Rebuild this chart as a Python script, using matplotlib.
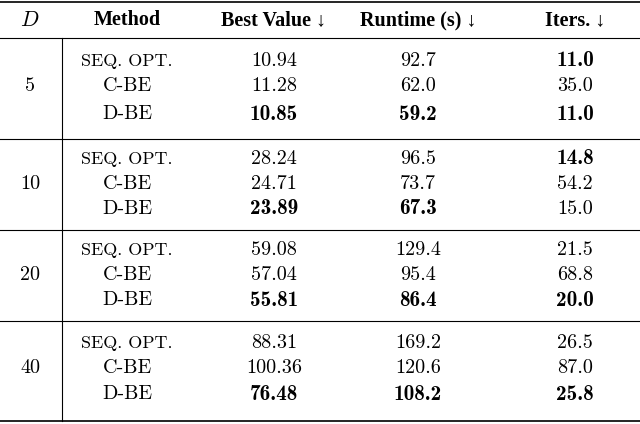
import matplotlib.pyplot as plt
plt.rcParams['mathtext.fontset'] = 'cm'

Ds = ["5", "10", "20", "40"]
methods = ["SEQ. OPT.", "C-BE", "D-BE"]
best = [["10.94", "11.28", "10.85"], ["28.24", "24.71", "23.89"],
        ["59.08", "57.04", "55.81"], ["88.31", "100.36", "76.48"]]
runtime = [["92.7", "62.0", "59.2"], ["96.5", "73.7", "67.3"],
           ["129.4", "95.4", "86.4"], ["169.2", "120.6", "108.2"]]
iters = [["11.0", "35.0", "11.0"], ["14.8", "54.2", "15.0"],
         ["21.5", "68.8", "20.0"], ["26.5", "87.0", "25.8"]]
bold_best = [[2], [2], [2], [2]]
bold_rt = [[2], [2], [2], [2]]
bold_it = [[0, 2], [0], [2], [2]]
headers = ["Best Value", "Runtime (s)", "Iters."]

fig = plt.figure(figsize=(6.4, 4.24), dpi=100)
ax = fig.add_axes([0, 0, 1, 1])
ax.set_xlim(0, 640); ax.set_ylim(424, 0); ax.axis("off")

fs = 14.5
xD, xM, xB, xR, xI = 30, 127, 274, 418, 575
ax.text(xD, 20, "$D$", ha="center", va="center", fontsize=fs + 1)
ax.text(xM, 20, "Method", ha="center", va="center", fontsize=fs, family="Liberation Serif", weight="bold")
for x, h in zip([xB, xR, xI], headers):
    ax.text(x, 20, h + " \u2193", ha="center", va="center", fontsize=fs,
            family=["Liberation Serif", "DejaVu Serif"], weight="bold")

for y, lw in [(2, 1.2), (38, 0.8), (139, 0.8), (230, 0.8), (321, 0.8), (421, 1.2)]:
    ax.plot([0, 640], [y, y], color="black", lw=lw)
ax.plot([62, 62], [38, 421], color="black", lw=0.8)

rows = [[61, 86, 114], [159, 184, 209], [250, 275, 300], [343, 368, 394]]
for g in range(4):
    ax.text(xD, rows[g][1], Ds[g], ha="center", va="center", fontsize=fs, family="cmr10")
    for i in range(3):
        y = rows[g][i]
        m = methods[i]
        size = fs - 1.5 if m == "SEQ. OPT." else fs
        ax.text(xM, y, m, ha="center", va="center", fontsize=size, family="cmr10")
        for x, vals, bl in [(xB, best, bold_best), (xR, runtime, bold_rt), (xI, iters, bold_it)]:
            isb = i in bl[g]
            ax.text(x, y, vals[g][i], ha="center", va="center",
                    fontsize=fs + (0.8 if isb else 0), family="cmb10" if isb else "cmr10")

fig.savefig("out.png", dpi=100)
